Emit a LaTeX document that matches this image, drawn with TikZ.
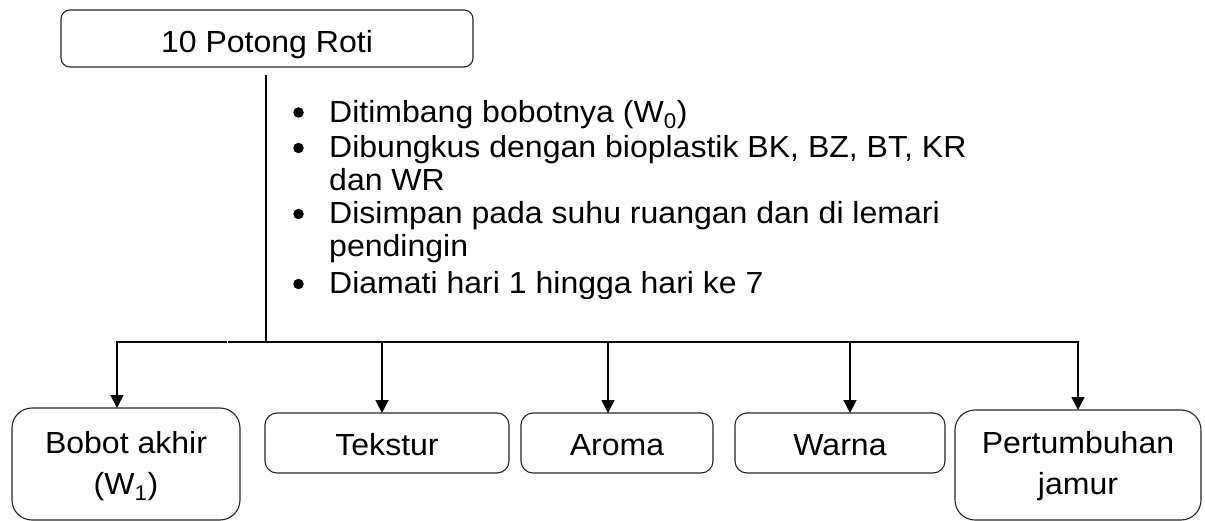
\documentclass[tikz,border=0pt]{standalone}
\usepackage{fontspec}
\setmainfont{Liberation Sans}[FakeStretch=1.05]
\usetikzlibrary{arrows.meta}

\begin{document}
\begin{tikzpicture}[x=1pt, y=-1pt,
  frame/.style={draw=black!85, line width=1.1pt, inner sep=0pt, outer sep=0pt},
  txt/.style={inner sep=0pt, anchor=base, font=\fontsize{30.5}{32.5}\selectfont},
  steptxt/.style={txt, anchor=base west},
  boxtxt/.style={inner sep=0pt, anchor=base, font=\fontsize{30.5}{41.5}\selectfont},
  wire/.style={line width=1.8pt, draw=black},
  drop/.style={wire, -{Triangle[length=13pt,width=13pt]}},
  bulletdot/.style={circle, fill=black, inner sep=0pt, minimum size=10.5pt}
]
\useasboundingbox (0,0) rectangle (1205,521);

% starting material
\node[frame, rounded corners=9pt, minimum width=412pt, minimum height=57pt] (top) at (267,38.5) {};
\node[txt] (topT) at (267,53) {10 Potong Roti};

% treatment steps
\node[bulletdot] (b1) at (298.5,112.5) {};
\node[bulletdot] (b2) at (298.5,148) {};
\node[bulletdot] (b3) at (298.5,214) {};
\node[bulletdot] (b4) at (298.5,284) {};
\node[steptxt] (s1) at (329,122.5) {Ditimbang bobotnya (W\textsubscript{0})};
\node[steptxt] (s2) at (329,158) {\begin{tabular}[t]{@{}l@{}}Dibungkus dengan bioplastik BK, BZ, BT, KR\\dan WR\end{tabular}};
\node[steptxt] (s3) at (329,224) {\begin{tabular}[t]{@{}l@{}}Disimpan pada suhu ruangan dan di lemari\\pendingin\end{tabular}};
\begin{scope}
  \clip (0,0) rectangle (1205,299);
  \node[steptxt] (s4) at (329,294) {Diamati hari 1 hingga hari ke 7};
\end{scope}

% observed parameters
\node[frame, rounded corners=20pt, minimum width=228pt, minimum height=112pt] (bobot) at (126,464) {};
\node[frame, rounded corners=12pt, minimum width=244pt, minimum height=60pt] (tekstur) at (387,443) {};
\node[frame, rounded corners=12pt, minimum width=192pt, minimum height=60pt] (aroma) at (617,443) {};
\node[frame, rounded corners=12pt, minimum width=210pt, minimum height=60pt] (warna) at (840,443) {};
\node[frame, rounded corners=20pt, minimum width=246pt, minimum height=110pt] (jamur) at (1078,465) {};

\node[boxtxt] (bobotT) at (126,453) {\begin{tabular}[t]{@{}c@{}}Bobot akhir\\(W\textsubscript{1})\end{tabular}};
\node[txt] (teksturT) at (387,455) {Tekstur};
\node[txt] (aromaT) at (617,455) {Aroma};
\node[txt] (warnaT) at (840,455) {Warna};
\node[boxtxt] (jamurT) at (1078,453) {\begin{tabular}[t]{@{}c@{}}Pertumbuhan\\jamur\end{tabular}};

% connectors: trunk, bus with a small break, and drops to each box
\coordinate (split) at (266,342);
\coordinate (d1) at (117,342);
\coordinate (d2) at (382,342);
\coordinate (d3) at (608,342);
\coordinate (d4) at (850,342);
\coordinate (d5) at (1078,342);
\coordinate (gapL) at (226,342);
\coordinate (gapR) at (228.5,342);

\draw[wire] ([yshift=-8pt]top.south -| split) -- (split);
\draw[wire, line cap=rect] (d1) -- (gapL);
\draw[wire, line cap=rect] (gapR) -- (d5);
\draw[drop] (d1) -- (d1 |- bobot.north);
\draw[drop] (d2) -- (d2 |- tekstur.north);
\draw[drop] (d3) -- (d3 |- aroma.north);
\draw[drop] (d4) -- (d4 |- warna.north);
\draw[drop] (d5) -- (d5 |- jamur.north);
\end{tikzpicture}
\end{document}
